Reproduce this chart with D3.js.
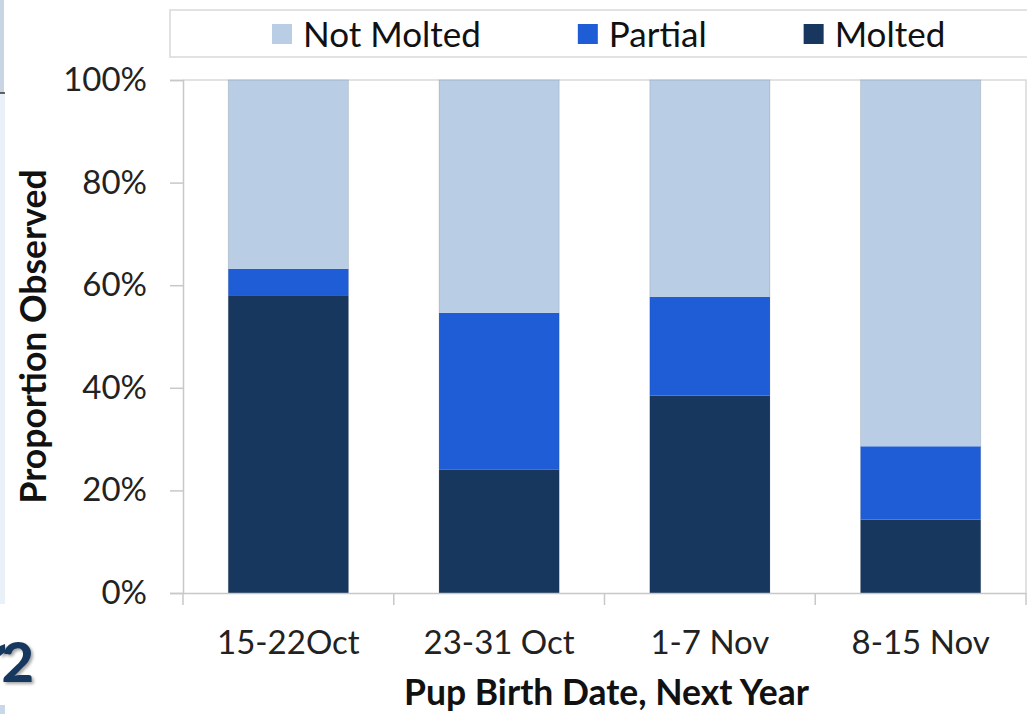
<!DOCTYPE html>
<html><head><meta charset="utf-8">
<script src="https://cdn.jsdelivr.net/npm/d3@7"></script>
<style>
html,body{margin:0;padding:0;background:#fff;overflow:hidden}
svg{display:block}
text{font-family:Lato,"Open Sans",sans-serif}
</style></head>
<body>
<svg id="chart" width="1027" height="714"></svg>
<script>
// ---- data ----
const categories = ["15-22Oct", "23-31 Oct", "1-7 Nov", "8-15 Nov"];
const molted     = [0.579, 0.241, 0.385, 0.143];
const partial    = [0.053, 0.305, 0.192, 0.143];
const notMolted  = [0.368, 0.454, 0.423, 0.714];
const seriesNames  = ["Not Molted", "Partial", "Molted"];
const seriesColors = ["#b9cde5", "#1f5dd6", "#17375e"];
const yTicks = [0, 0.2, 0.4, 0.6, 0.8, 1.0];
const yTitle = "Proportion Observed";
const xTitle = "Pup Birth Date, Next Year";

const svg = d3.select("#chart");
const plot = {left: 183, right: 1026, top: 80, bottom: 593};

// --- left-edge slide fragments ---
svg.append("rect").attr("x",0).attr("y",0).attr("width",4).attr("height",93).attr("fill","#c9d5e2");
svg.append("line").attr("x1",0).attr("x2",5).attr("y1",93).attr("y2",93).attr("stroke","#333").attr("stroke-width",1.5);
svg.append("rect").attr("x",0).attr("y",94).attr("width",5).attr("height",510).attr("fill","#eaf0f7");
svg.append("rect").attr("x",0).attr("y",705).attr("width",5).attr("height",9).attr("fill","#c9d8e8");
const defs = svg.append("defs");
const f = defs.append("filter").attr("id","sh").attr("x","-30%").attr("y","-30%").attr("width","170%").attr("height","170%");
f.append("feDropShadow").attr("dx",2).attr("dy",2).attr("stdDeviation",1.5).attr("flood-color","#000").attr("flood-opacity",0.35);
// fragment of the clipped letter before the "2"
svg.append("path").attr("d","M0,646 L5,644 L5,652 L0,656 Z").attr("fill","#17375e").attr("filter","url(#sh)");
svg.append("text").attr("x",34).attr("y",682).attr("text-anchor","end")
  .attr("font-size",56).attr("font-weight",900).attr("fill","#17375e")
  .attr("filter","url(#sh)").text("2");

// scales
const x = d3.scaleBand().domain(categories).range([plot.left, plot.right]).paddingInner(0.43).paddingOuter(0.215);
const y = d3.scaleLinear().domain([0,1]).range([plot.bottom, plot.top]);

// stacked data
const rows = categories.map((c,i)=>({cat:c, "Molted":molted[i], "Partial":partial[i], "Not Molted":notMolted[i]}));
const stack = d3.stack().keys(["Molted","Partial","Not Molted"])(rows);
const colorOf = k => seriesColors[seriesNames.indexOf(k)];

// plot border (top/right)
svg.append("path")
  .attr("d", `M${plot.left},${plot.top}H${plot.right}V${plot.bottom}`)
  .attr("fill","none").attr("stroke","#d9d9d9").attr("stroke-width",1.5);

// bars
svg.append("g").selectAll("g").data(stack).join("g")
  .attr("fill", d => colorOf(d.key))
  .selectAll("rect").data(d => d).join("rect")
  .attr("x", d => x(d.data.cat))
  .attr("width", x.bandwidth())
  .attr("y", d => y(Math.min(1,d[1])))
  .attr("height", d => y(d[0]) - y(Math.min(1,d[1])));
svg.append("g").selectAll("rect").data(categories).join("rect")
  .attr("x", d => x(d)).attr("width", x.bandwidth())
  .attr("y", y(1)).attr("height", y(0)-y(1))
  .attr("fill","none").attr("stroke","rgba(0,0,0,0.12)").attr("stroke-width",1);

// y axis
const yAxis = svg.append("g").attr("transform",`translate(${plot.left},0)`)
  .call(d3.axisLeft(y).tickValues(yTicks).tickFormat(d3.format(".0%")).tickSize(13).tickPadding(23));
yAxis.select(".domain").attr("stroke","#c8c8c8").attr("stroke-width",1.5);
yAxis.selectAll(".tick line").attr("stroke","#c8c8c8").attr("stroke-width",1.5);
yAxis.selectAll("text").attr("font-size",33).attr("fill","#222").attr("font-family","Lato");

// x axis
const xAxis = svg.append("g").attr("transform",`translate(0,${plot.bottom})`)
  .call(d3.axisBottom(x).tickSize(0).tickPadding(38));
xAxis.select(".domain").attr("stroke","#c8c8c8").attr("stroke-width",1.5);
xAxis.selectAll("text").attr("font-size",33).attr("fill","#222").attr("font-family","Lato");
const half = x.step()*x.paddingInner()/2;
const bounds = categories.map(c => x(c) - half).concat([x(categories[categories.length-1]) + x.bandwidth() + half]);
svg.append("g").selectAll("line").data(bounds).join("line")
  .attr("x1", d=>d).attr("x2", d=>d).attr("y1", plot.bottom).attr("y2", plot.bottom+12)
  .attr("stroke","#c8c8c8").attr("stroke-width",1.5);

// axis titles
svg.append("text").attr("transform",`translate(46,${(plot.top+plot.bottom)/2}) rotate(-90)`)
  .attr("text-anchor","middle").attr("font-size",35.5).attr("font-weight",700).attr("fill","#111").text(yTitle);
svg.append("text").attr("x",(plot.left+plot.right)/2 + 2).attr("y",705)
  .attr("text-anchor","middle").attr("font-size",35.5).attr("font-weight",700).attr("fill","#111").text(xTitle);

// legend
const lg = svg.append("g");
lg.append("rect").attr("x",170).attr("y",10).attr("width",880).attr("height",47)
  .attr("fill","#fff").attr("stroke","#d9d9d9").attr("stroke-width",1.5);
let lx = 272;
seriesNames.forEach((name,i)=>{
  lg.append("rect").attr("x",lx).attr("y",24).attr("width",20).attr("height",20).attr("fill",seriesColors[i]);
  const t = lg.append("text").attr("x",lx+31).attr("y",47).attr("font-size",35).attr("fill","#111").text(name);
  lx = lx + 31 + t.node().getComputedTextLength() + 97;
});
</script>
</body></html>
